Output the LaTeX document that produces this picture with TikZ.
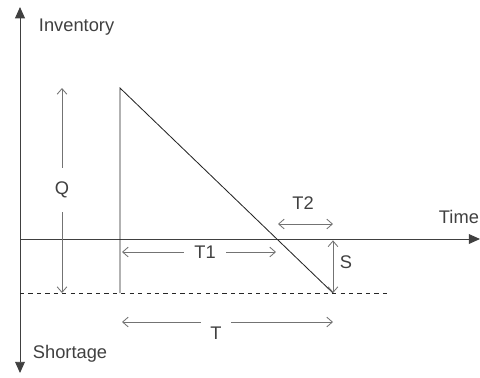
\documentclass[tikz,border=0pt]{standalone}
\usepackage{fontspec}
\setmainfont{Liberation Sans}
\usetikzlibrary{arrows.meta}

\tikzset{
	axis/.style={draw=black!75, line width=0.7pt, -{Triangle[length=8pt,width=7pt]}},
	dim/.style={draw=black!55, line width=0.6pt, {Straight Barb[length=4pt,width=7pt]}-{Straight Barb[length=4pt,width=7pt]}},
	lbl/.style={text=black!75, font=\fontsize{13}{15}\selectfont},
	gap/.style={lbl, fill=white, inner xsep=7pt}
}

\begin{document}
\begin{tikzpicture}[x=0.025cm, y=-0.025cm]
	\useasboundingbox (0,0) rectangle (480,377);
	% axes
	\coordinate (O) at (20,239);
	\coordinate (ytop) at (20,7);
	\coordinate (ybot) at (20,373);
	\coordinate (xend) at (480,239);
	\draw[axis] (O) -- (ytop);
	\draw[axis] (O) -- (ybot);
	\draw[axis] (O) -- (xend);
	\node[lbl, anchor=west] (inv) at (34,27) {Inventory};
	\node[lbl, anchor=west] (shor) at (28,354) {Shortage};
	\node[lbl, anchor=west] (time) at (434,217) {Time};
	
	% stock line
	\coordinate (A) at (120,88);
	\coordinate (B) at (120,293);
	\coordinate (C) at (333,293);
	\coordinate (D) at (333,239);
	\draw[black!85, line width=0.6pt] (B) -- (A) -- (C);
	\draw[dashed, black!85, line width=0.6pt] (20,293) -- (390,293);
	
	% Q
	\coordinate (qt) at (62,88);
	\coordinate (qb) at (62,293);
	\draw[dim] (qt) -- (qb);
	\node[gap, inner ysep=10pt] (Q) at (62,190) {Q};
	
	% T1
	\coordinate (t1a) at (122,252);
	\coordinate (t1b) at (276,252);
	\draw[dim] (t1a) -- (t1b);
	\node[gap] (T1) at (205,252) {T1};
	
	% T2
	\coordinate (t2a) at (278,224);
	\coordinate (t2b) at (333,224);
	\draw[dim] (t2a) -- (t2b);
	\node[lbl] (T2) at (303,203) {T2};
	
	% S
	\draw[dim] ([yshift=-1]D) -- (C);
	\node[lbl] (S) at (346,262) {S};
	
	% T
	\coordinate (ta) at (122,322);
	\coordinate (tb) at (333,322);
	\draw[dim] (ta) -- (tb);
	\node[gap, inner ysep=1pt, minimum height=24pt] (T) at (216,333) {T};
\end{tikzpicture}
\end{document}
